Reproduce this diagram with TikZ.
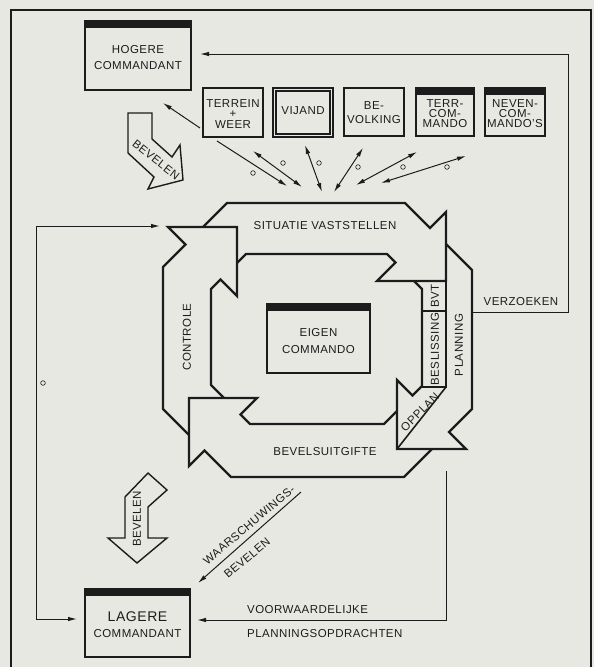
\documentclass[tikz,border=0pt]{standalone}
\usepackage{fontspec}
\setmainfont{Liberation Sans}[LetterSpace=4]
\usetikzlibrary{arrows.meta}
\definecolor{paper}{RGB}{232,232,227}
\definecolor{ink}{RGB}{28,28,28}
\begin{document}
\begin{tikzpicture}[x=1pt,y=-1pt,
  lbl/.style={inner sep=0pt,text=ink,font=\fontsize{11.5}{12}\selectfont},
  box/.style={draw=ink,line width=1.3pt,fill=paper,inner sep=0pt,outer sep=0pt},
  bandline/.style={draw=ink,line width=2.4pt,line join=miter},
  conn/.style={draw=ink,line width=1pt},
  arr/.style={-{Latex[length=9pt,width=4.5pt]}},
  darr/.style={{Latex[length=9pt,width=4.5pt]}-{Latex[length=9pt,width=4.5pt]}},
  dot/.style={draw=ink,line width=0.6pt},
  fatarrow/.style={draw=ink,line width=1.4pt,fill=paper,line join=miter}]
\useasboundingbox (0,0) rectangle (594,667);
\fill[paper] (0,0) rectangle (594,667);
% frame
\draw[ink,line width=2pt] (11,667) -- (11,10) -- (591,10) -- (591,667);

% ---------- boxes ----------
\node[box,minimum width=106pt,minimum height=69pt] (hog) at (138,55.5) {};
\fill[ink] (hog.north west) rectangle ([yshift=-7pt]hog.north east);
\node[lbl,align=center,font=\fontsize{11.5}{16}\selectfont] (hogt) at (138,58) {HOGERE\\COMMANDANT};

\node[box,minimum width=60pt,minimum height=49pt] (ter) at (233,112.5) {};
\node[lbl,align=center,font=\fontsize{11.5}{10.5}\selectfont] (tert) at (233,114) {TERREIN\\+\\WEER};

\node[box,minimum width=60pt,minimum height=49pt] (vij) at (303,112.5) {};
\draw[ink,line width=1.1pt] ([shift={(3pt,-3pt)}]vij.north west) rectangle ([shift={(-3pt,3pt)}]vij.south east);
\node[lbl] (vijt) at (303,111) {VIJAND};

\node[box,minimum width=60pt,minimum height=48pt] (bev) at (374,112) {};
\node[lbl,align=center,font=\fontsize{11.5}{14}\selectfont] (bevt) at (374,112.5) {BE-\\VOLKING};

\node[box,minimum width=58pt,minimum height=48pt] (terr) at (445,112) {};
\fill[ink] (terr.north west) rectangle ([yshift=-7pt]terr.north east);
\node[lbl,align=center,font=\fontsize{11.5}{10}\selectfont] (terrt) at (445,113.5) {TERR-\\COM-\\MANDO};

\node[box,minimum width=60pt,minimum height=48pt] (nev) at (515,112) {};
\fill[ink] (nev.north west) rectangle ([yshift=-7pt]nev.north east);
\node[lbl,align=center,font=\fontsize{11.5}{10}\selectfont] (nevt) at (515,113.5) {NEVEN-\\COM-\\MANDO'S};

\node[box,minimum width=103pt,minimum height=69pt] (eig) at (318.5,338.5) {};
\fill[ink] (eig.north west) rectangle ([yshift=-7pt]eig.north east);
\node[lbl,align=center,font=\fontsize{11.5}{17}\selectfont] (eigt) at (318.5,341.5) {EIGEN\\COMMANDO};

\node[box,minimum width=105pt,minimum height=68pt] (lag) at (137.5,623) {};
\fill[ink] (lag.north west) rectangle ([yshift=-7pt]lag.north east);
\node[lbl,font=\fontsize{14}{14}\selectfont] (lagt1) at (137.5,617) {LAGERE};
\node[lbl] (lagt2) at (137.5,634) {COMMANDANT};

% ---------- cycle ----------
% situatie vaststellen
\draw[bandline] (237,263) -- (246,254) -- (387,254) -- (395.5,262.5) -- (377,281) -- (446,281)
  -- (446,212) -- (430,228) -- (405,203) -- (227,203) -- (203,227);
% right arrow (planning)
\draw[bandline] (414,281) -- (422,289) -- (422,386) -- (412.5,395.5) -- (397,380) -- (397,449)
  -- (466,449) -- (449,432) -- (472,409) -- (472,270) -- (446,244);
% bevelsuitgifte
\draw[bandline] (397,411) -- (384,424) -- (250,424) -- (240.5,414.5) -- (257,398) -- (189,398)
  -- (189,466) -- (204.5,450.5) -- (231,477) -- (404,477) -- (432,449);
% controle
\draw[bandline] (224,398) -- (211,385) -- (211,289) -- (220.5,279.5) -- (237,296) -- (237,227)
  -- (168,227) -- (185.5,244.5) -- (163,267) -- (163,409) -- (189,435);
% lanes inside right arrow
\draw[ink,line width=1.6pt] (446,281) -- (446,387) -- (422,387);
\draw[ink,line width=1.6pt] (422,311) -- (446,311);
\draw[ink,line width=1.6pt] (446,387) -- (397,449);

\node[lbl] (sit) at (325,226) {SITUATIE VASTSTELLEN};
\node[lbl,rotate=90] (con) at (187,337) {CONTROLE};
\node[lbl] (bvs) at (325,452) {BEVELSUITGIFTE};
\node[lbl,rotate=90] (bvt) at (435,296) {BVT};
\node[lbl,rotate=90] (bes) at (435,349) {BESLISSING};
\node[lbl,rotate=90] (pla) at (459,345) {PLANNING};
\node[lbl,rotate=45] (opp) at (420,412) {OPPLAN};

% ---------- fat BEVELEN arrows ----------
\draw[fatarrow] (128,113) -- (152,113) -- (152,139) -- (172,157) -- (180,145) -- (183,180)
  -- (148,189) -- (154,177) -- (128,153) -- cycle;
\node[lbl,rotate=-38] (bev1) at (156,160) {BEVELEN};
\draw[fatarrow] (148,473) -- (167,490) -- (148,507) -- (148,538) -- (167,538) -- (137,563)
  -- (108,538) -- (125,538) -- (125,497) -- cycle;
\node[lbl,rotate=90] (bev2) at (137,519) {BEVELEN};

% ---------- connectors ----------
\coordinate (vz1) at (473,312);
\coordinate (vz2) at (568,312);
\coordinate (vz3) at (568,54);
\coordinate (vz4) at (200,54);
\draw[conn,arr] (vz1) -- (vz2) -- (vz3) -- (vz4);
\node[lbl] (verz) at (521,302) {VERZOEKEN};

\coordinate (a1s) at (200,128); \coordinate (a1e) at (163,103);
\draw[conn,arr] (a1s) -- (a1e);
\coordinate (a2s) at (217,141); \coordinate (a2e) at (287,186);
\draw[conn,arr] (a2s) -- (a2e);
\coordinate (a3s) at (253,151); \coordinate (a3e) at (302,187);
\draw[conn,darr] (a3s) -- (a3e);
\coordinate (a4s) at (305,145); \coordinate (a4e) at (322,192);
\draw[conn,darr] (a4s) -- (a4e);
\coordinate (a5s) at (363,148); \coordinate (a5e) at (334,192);
\draw[conn,darr] (a5s) -- (a5e);
\coordinate (a6s) at (417,152); \coordinate (a6e) at (356,185);
\draw[conn,darr] (a6s) -- (a6e);
\coordinate (a7s) at (466,156); \coordinate (a7e) at (381,183);
\draw[conn,darr] (a7s) -- (a7e);
\foreach \p in {(253,173),(283,163),(319,163),(358,167),(403,167),(447,167),(43,383)}
  \draw[dot] \p circle (2.3);

% controle <-> lagere
\coordinate (lp1) at (77,619);
\coordinate (lp2) at (36,619);
\coordinate (lp3) at (36,226);
\coordinate (lp4) at (160,226);
\draw[conn,darr] (lp1) -- (lp2) -- (lp3) -- (lp4);

% waarschuwingsbevelen
\coordinate (ws1) at (301,492);
\coordinate (ws2) at (198,583);
\draw[conn,arr] (ws1) -- (ws2);
\node[lbl,rotate=40] (wst1) at (249,525) {WAARSCHUWINGS-};
\node[lbl,rotate=40] (wst2) at (247,558) {BEVELEN};

% voorwaardelijke planningsopdrachten
\coordinate (vw1) at (446,471);
\coordinate (vw2) at (197,620);
\draw[conn,arr] (vw1) |- (vw2);
\node[lbl,anchor=west] (vwt1) at (247,610) {VOORWAARDELIJKE};
\node[lbl,anchor=west] (vwt2) at (247,634) {PLANNINGSOPDRACHTEN};
\end{tikzpicture}
\end{document}
